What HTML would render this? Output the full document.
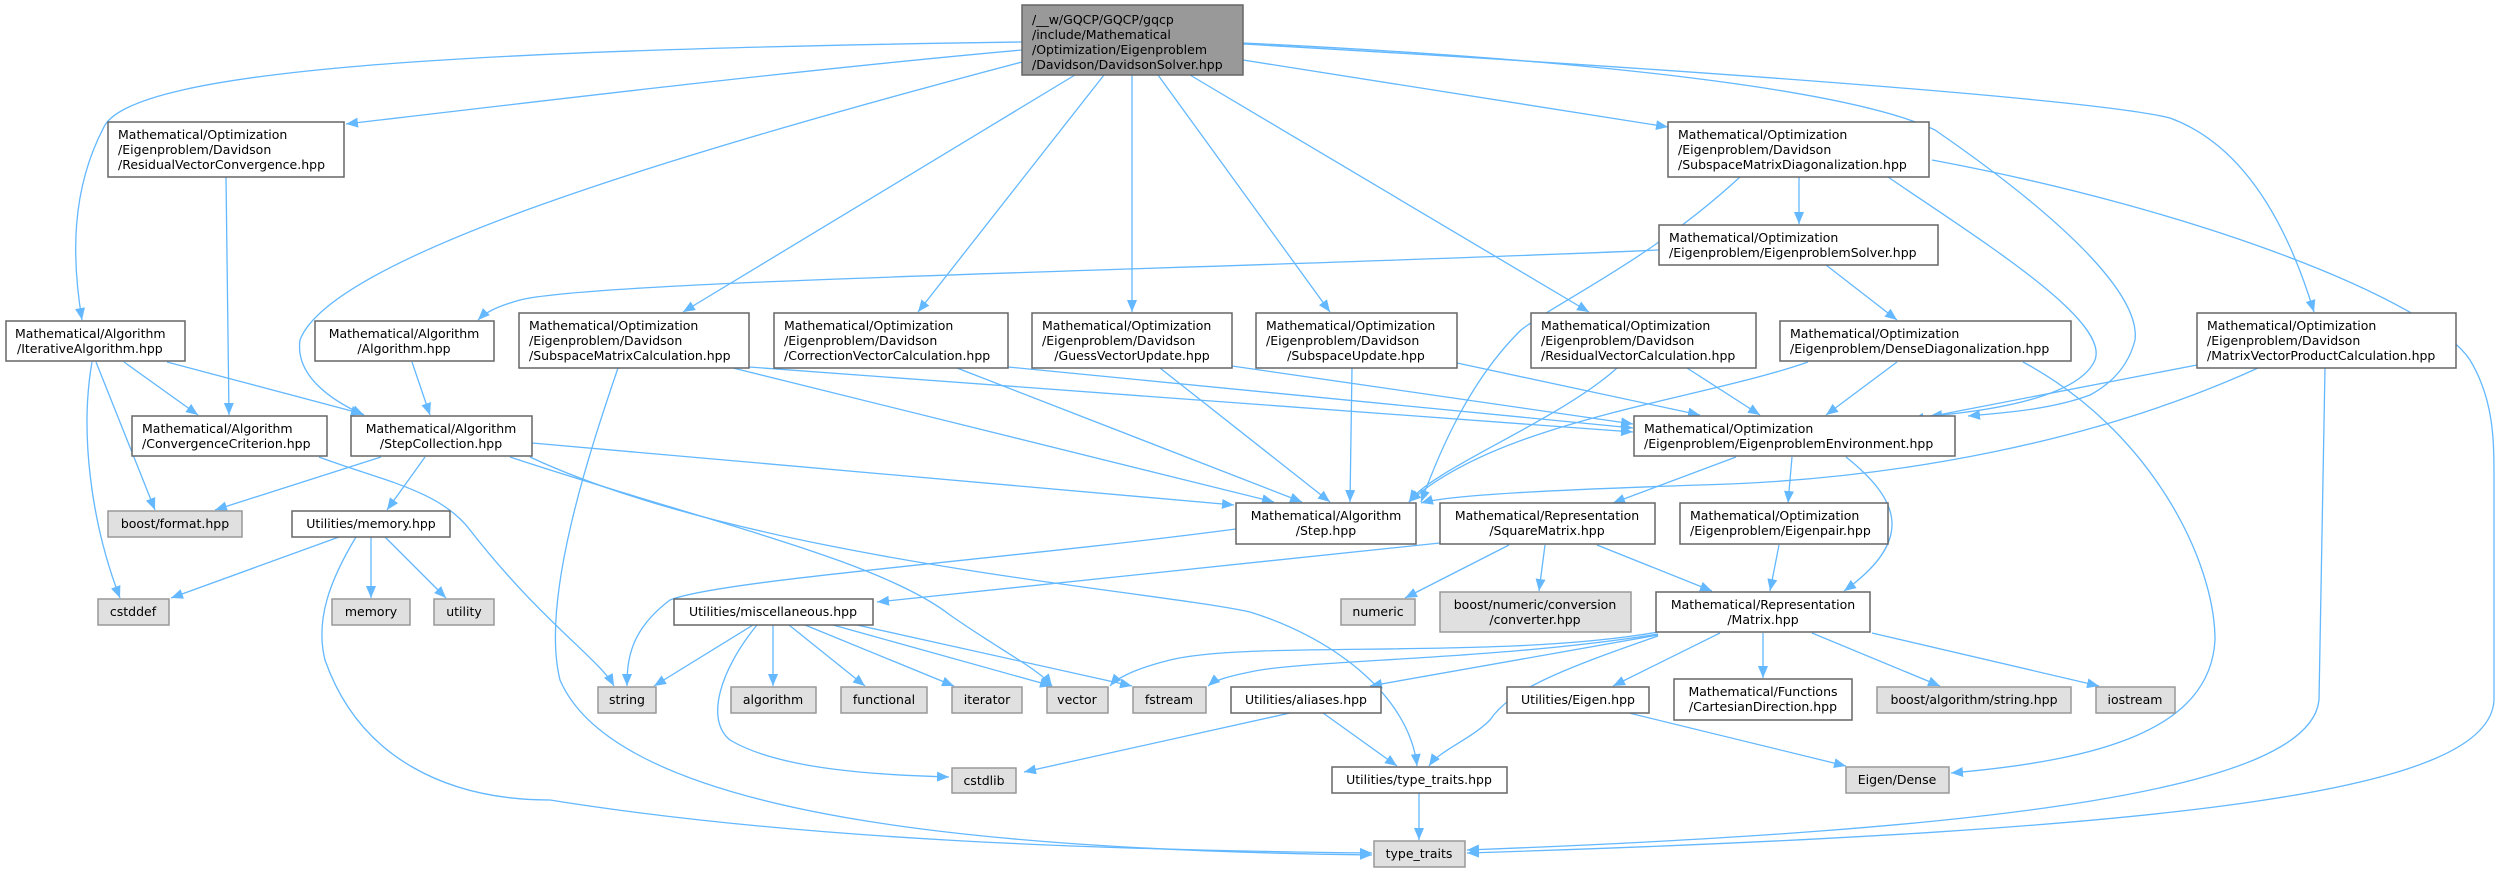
<!DOCTYPE html>
<html><head><meta charset="utf-8"><style>
html,body{margin:0;padding:0;background:#fff;}
svg{display:block;}
text{font-family:"DejaVu Sans","Liberation Sans",sans-serif;font-size:12.5px;fill:#000;}
.w{fill:#fff;stroke:#666;stroke-width:1.5;}
.g{fill:#e0e0e0;stroke:#999;stroke-width:1.5;}
.r{fill:#999;stroke:#666;stroke-width:1.5;}
path.e{fill:none;stroke:#63b8ff;stroke-width:1.3;marker-end:url(#a);}
.m{text-anchor:middle;}
</style></head><body>
<svg width="2497" height="872" viewBox="0 0 2497 872" xmlns="http://www.w3.org/2000/svg">
<defs><marker id="a" markerUnits="userSpaceOnUse" markerWidth="12" markerHeight="10" refX="12" refY="5" orient="auto"><path d="M0,0 L12,5 L0,10 z" fill="#63b8ff"/></marker></defs>
<!-- edges -->
<path class="e" d="M1022,42 C450,50 140,70 105,125 C70,190 72,260 82,320"/>
<path class="e" d="M1022,50 C800,70 550,100 346,124"/>
<path class="e" d="M1022,62 C650,160 330,260 300,340 C295,375 330,400 364,415"/>
<path class="e" d="M1075,75 L683,312"/>
<path class="e" d="M1104,75 L918,312"/>
<path class="e" d="M1132,75 L1132,312"/>
<path class="e" d="M1158,75 L1330,312"/>
<path class="e" d="M1190,75 L1589,312"/>
<path class="e" d="M1243,60 L1668,127"/>
<path class="e" d="M1243,43 C1600,60 1850,90 1935,130 C2080,230 2140,300 2135,340 C2130,360 2118,380 2090,395 C2050,410 2000,413 1968,416"/>
<path class="e" d="M1243,44 C1700,70 2100,100 2170,118 C2230,140 2280,200 2314,312"/>
<path class="e" d="M1932,160 C2200,210 2430,300 2470,360 C2494,400 2494,440 2494,480 L2494,700 C2490,790 2200,830 1467,853"/>
<path class="e" d="M226,177 L229,415"/>
<path class="e" d="M124,362 L198,415"/>
<path class="e" d="M167,362 L363,414"/>
<path class="e" d="M96,362 L155,510"/>
<path class="e" d="M92,362 C80,430 90,520 120,598"/>
<path class="e" d="M412,362 L430,415"/>
<path class="e" d="M733,368 L1274,502"/>
<path class="e" d="M749,367 L1633,432"/>
<path class="e" d="M618,368 C590,450 540,600 560,680 C620,820 1000,850 1372,855"/>
<path class="e" d="M957,368 L1302,502"/>
<path class="e" d="M1008,367 L1633,428"/>
<path class="e" d="M1160,368 L1330,502"/>
<path class="e" d="M1232,366 L1633,424"/>
<path class="e" d="M1352,368 L1350,502"/>
<path class="e" d="M1457,363 L1700,415"/>
<path class="e" d="M1617,368 C1560,420 1430,470 1409,502"/>
<path class="e" d="M1687,368 L1760,415"/>
<path class="e" d="M1740,177 C1650,260 1560,300 1521,330 C1470,380 1440,450 1421,502"/>
<path class="e" d="M1799,177 L1799,224"/>
<path class="e" d="M1888,177 C1980,240 2110,320 2095,360 C2080,395 2000,410 1930,416"/>
<path class="e" d="M1659,250 C1200,270 600,280 520,300 C495,307 485,313 478,320"/>
<path class="e" d="M1826,265 L1897,320"/>
<path class="e" d="M1808,362 C1700,400 1500,420 1409,502"/>
<path class="e" d="M1897,362 L1826,415"/>
<path class="e" d="M2023,362 C2150,430 2215,560 2215,640 C2210,730 2100,760 1951,773"/>
<path class="e" d="M2197,365 L1912,420"/>
<path class="e" d="M2258,368 C2100,440 1900,480 1700,485 C1550,490 1450,495 1421,503"/>
<path class="e" d="M2325,368 L2319,700 C2310,790 2000,830 1467,850"/>
<path class="e" d="M381,457 L215,510"/>
<path class="e" d="M425,457 L387,510"/>
<path class="e" d="M532,443 L1234,505"/>
<path class="e" d="M510,457 C700,520 880,560 950,615 C1000,650 1040,670 1052,686"/>
<path class="e" d="M530,457 C750,560 1150,590 1250,612 C1340,640 1410,700 1417,766"/>
<path class="e" d="M319,457 C380,480 440,490 470,530 C540,620 600,660 614,686"/>
<path class="e" d="M339,537 L171,598"/>
<path class="e" d="M371,537 L371,598"/>
<path class="e" d="M385,537 L446,598"/>
<path class="e" d="M356,537 C330,580 315,620 325,660 C360,760 450,800 550,800 C800,840 1100,850 1372,853"/>
<path class="e" d="M1236,529 C1000,560 720,580 670,600 C630,630 627,660 627,686"/>
<path class="e" d="M1440,543 L877,602"/>
<path class="e" d="M1509,545 L1405,598"/>
<path class="e" d="M1545,545 L1539,591"/>
<path class="e" d="M1597,545 L1712,591"/>
<path class="e" d="M1736,457 L1613,503"/>
<path class="e" d="M1792,457 L1788,503"/>
<path class="e" d="M1846,457 C1900,500 1915,540 1844,591"/>
<path class="e" d="M1779,545 L1770,591"/>
<path class="e" d="M1658,632 C1500,660 1250,640 1170,660 C1130,670 1115,680 1110,686"/>
<path class="e" d="M1658,634 C1500,660 1300,660 1250,672 C1230,676 1215,680 1208,686"/>
<path class="e" d="M1658,635 L1370,686"/>
<path class="e" d="M1658,636 C1560,670 1510,690 1490,720 C1470,740 1440,750 1429,766"/>
<path class="e" d="M1720,633 L1613,686"/>
<path class="e" d="M1763,633 L1763,678"/>
<path class="e" d="M1812,633 L1940,686"/>
<path class="e" d="M1872,633 L2099,686"/>
<path class="e" d="M753,625 L654,686"/>
<path class="e" d="M757,625 C720,670 705,720 730,740 C780,770 880,775 949,777"/>
<path class="e" d="M773,625 L773,686"/>
<path class="e" d="M789,625 L865,686"/>
<path class="e" d="M805,625 L954,686"/>
<path class="e" d="M833,625 L1052,686"/>
<path class="e" d="M857,625 L1132,686"/>
<path class="e" d="M1290,713 L1024,772"/>
<path class="e" d="M1323,713 L1397,766"/>
<path class="e" d="M1629,713 L1846,766"/>
<path class="e" d="M1419,793 L1419,840"/>
<!-- nodes -->
<rect class="r" x="1022" y="5" width="221" height="70"/>
<text x="1032" y="24">/__w/GQCP/GQCP/gqcp</text><text x="1032" y="39">/include/Mathematical</text><text x="1032" y="54">/Optimization/Eigenproblem</text><text x="1032" y="69">/Davidson/DavidsonSolver.hpp</text>

<rect class="w" x="108" y="122" width="236" height="55"/>
<text x="118" y="139">Mathematical/Optimization</text><text x="118" y="154">/Eigenproblem/Davidson</text><text x="118" y="169">/ResidualVectorConvergence.hpp</text>

<rect class="w" x="1668" y="122" width="261" height="55"/>
<text x="1678" y="139">Mathematical/Optimization</text><text x="1678" y="154">/Eigenproblem/Davidson</text><text x="1678" y="169">/SubspaceMatrixDiagonalization.hpp</text>

<rect class="w" x="1659" y="225" width="279" height="40"/>
<text x="1669" y="242">Mathematical/Optimization</text><text x="1669" y="257">/Eigenproblem/EigenproblemSolver.hpp</text>

<rect class="w" x="6" y="321" width="179" height="40"/>
<text x="15" y="338">Mathematical/Algorithm</text><text x="17" y="353">/IterativeAlgorithm.hpp</text>

<rect class="w" x="315" y="321" width="179" height="40"/>
<text class="m" x="404" y="338">Mathematical/Algorithm</text><text class="m" x="404" y="353">/Algorithm.hpp</text>

<rect class="w" x="519" y="313" width="230" height="55"/>
<text x="529" y="330">Mathematical/Optimization</text><text x="529" y="345">/Eigenproblem/Davidson</text><text x="529" y="360">/SubspaceMatrixCalculation.hpp</text>

<rect class="w" x="774" y="313" width="234" height="55"/>
<text x="784" y="330">Mathematical/Optimization</text><text x="784" y="345">/Eigenproblem/Davidson</text><text x="784" y="360">/CorrectionVectorCalculation.hpp</text>

<rect class="w" x="1032" y="313" width="200" height="55"/>
<text x="1042" y="330">Mathematical/Optimization</text><text x="1042" y="345">/Eigenproblem/Davidson</text><text class="m" x="1132" y="360">/GuessVectorUpdate.hpp</text>

<rect class="w" x="1256" y="313" width="201" height="55"/>
<text x="1266" y="330">Mathematical/Optimization</text><text x="1266" y="345">/Eigenproblem/Davidson</text><text class="m" x="1356" y="360">/SubspaceUpdate.hpp</text>

<rect class="w" x="1531" y="313" width="225" height="55"/>
<text x="1541" y="330">Mathematical/Optimization</text><text x="1541" y="345">/Eigenproblem/Davidson</text><text x="1541" y="360">/ResidualVectorCalculation.hpp</text>

<rect class="w" x="1780" y="321" width="291" height="40"/>
<text x="1790" y="338">Mathematical/Optimization</text><text x="1790" y="353">/Eigenproblem/DenseDiagonalization.hpp</text>

<rect class="w" x="2197" y="313" width="259" height="55"/>
<text x="2207" y="330">Mathematical/Optimization</text><text x="2207" y="345">/Eigenproblem/Davidson</text><text x="2207" y="360">/MatrixVectorProductCalculation.hpp</text>

<rect class="w" x="132" y="416" width="195" height="40"/>
<text x="142" y="433">Mathematical/Algorithm</text><text x="142" y="448">/ConvergenceCriterion.hpp</text>

<rect class="w" x="351" y="416" width="181" height="40"/>
<text class="m" x="441" y="433">Mathematical/Algorithm</text><text class="m" x="441" y="448">/StepCollection.hpp</text>

<rect class="w" x="1634" y="416" width="321" height="40"/>
<text x="1644" y="433">Mathematical/Optimization</text><text x="1644" y="448">/Eigenproblem/EigenproblemEnvironment.hpp</text>

<rect class="w" x="1236" y="503" width="180" height="41"/>
<text class="m" x="1326" y="520">Mathematical/Algorithm</text><text class="m" x="1326" y="535">/Step.hpp</text>

<rect class="w" x="1440" y="503" width="215" height="41"/>
<text class="m" x="1547" y="520">Mathematical/Representation</text><text class="m" x="1547" y="535">/SquareMatrix.hpp</text>

<rect class="w" x="1680" y="503" width="208" height="41"/>
<text x="1690" y="520">Mathematical/Optimization</text><text x="1690" y="535">/Eigenproblem/Eigenpair.hpp</text>

<rect class="g" x="108" y="511" width="134" height="26"/><text class="m" x="175" y="528">boost/format.hpp</text>
<rect class="w" x="292" y="511" width="158" height="26"/><text class="m" x="371" y="528">Utilities/memory.hpp</text>
<rect class="g" x="98" y="599" width="71" height="26"/><text class="m" x="133" y="616">cstddef</text>
<rect class="g" x="332" y="599" width="78" height="26"/><text class="m" x="371" y="616">memory</text>
<rect class="g" x="434" y="599" width="60" height="26"/><text class="m" x="464" y="616">utility</text>
<rect class="w" x="674" y="599" width="199" height="26"/><text class="m" x="773" y="616">Utilities/miscellaneous.hpp</text>
<rect class="g" x="1341" y="599" width="74" height="26"/><text class="m" x="1378" y="616">numeric</text>
<rect class="g" x="1440" y="592" width="191" height="40"/><text class="m" x="1535" y="609">boost/numeric/conversion</text><text class="m" x="1535" y="624">/converter.hpp</text>
<rect class="w" x="1656" y="592" width="214" height="40"/><text class="m" x="1763" y="609">Mathematical/Representation</text><text class="m" x="1763" y="624">/Matrix.hpp</text>

<rect class="g" x="598" y="687" width="58" height="26"/><text class="m" x="627" y="704">string</text>
<rect class="g" x="731" y="687" width="85" height="26"/><text class="m" x="773" y="704">algorithm</text>
<rect class="g" x="841" y="687" width="86" height="26"/><text class="m" x="884" y="704">functional</text>
<rect class="g" x="952" y="687" width="70" height="26"/><text class="m" x="987" y="704">iterator</text>
<rect class="g" x="1047" y="687" width="61" height="26"/><text class="m" x="1077" y="704">vector</text>
<rect class="g" x="1133" y="687" width="73" height="26"/><text class="m" x="1169" y="704">fstream</text>
<rect class="w" x="1231" y="687" width="150" height="26"/><text class="m" x="1306" y="704">Utilities/aliases.hpp</text>
<rect class="w" x="1507" y="687" width="142" height="26"/><text class="m" x="1578" y="704">Utilities/Eigen.hpp</text>
<rect class="w" x="1674" y="679" width="178" height="41"/><text class="m" x="1763" y="696">Mathematical/Functions</text><text class="m" x="1763" y="711">/CartesianDirection.hpp</text>
<rect class="g" x="1877" y="687" width="194" height="26"/><text class="m" x="1974" y="704">boost/algorithm/string.hpp</text>
<rect class="g" x="2096" y="687" width="79" height="26"/><text class="m" x="2135" y="704">iostream</text>
<rect class="g" x="952" y="768" width="64" height="25"/><text class="m" x="984" y="785">cstdlib</text>
<rect class="w" x="1332" y="767" width="175" height="26"/><text class="m" x="1419" y="784">Utilities/type_traits.hpp</text>
<rect class="g" x="1846" y="767" width="103" height="26"/><text class="m" x="1897" y="784">Eigen/Dense</text>
<rect class="g" x="1374" y="841" width="91" height="26"/><text class="m" x="1419" y="858">type_traits</text>
</svg>
</body></html>
